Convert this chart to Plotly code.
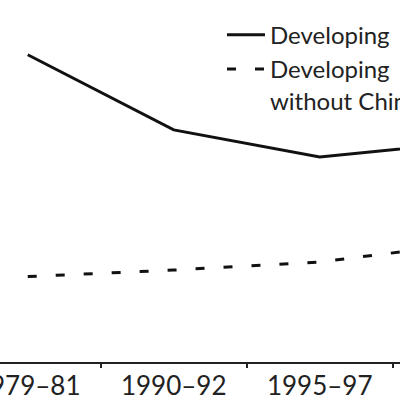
import plotly.graph_objects as go

periods = ["1979–81", "1990–92", "1995–97", "1998–2000"]
developing = [920, 817, 780, 800]
developing_no_china = [616, 625, 636, 661]

fig = go.Figure()
fig.add_trace(go.Scatter(
    x=periods, y=developing,
    mode="lines", name="Developing",
    line=dict(color="#111111", width=3)
))
fig.add_trace(go.Scatter(
    x=periods, y=developing_no_china,
    mode="lines", name="Developing<br>without China",
    line=dict(color="#111111", width=3, dash="9px,19px")
))

fig.update_layout(
    width=400, height=400,
    margin=dict(l=0, r=0, t=0, b=38, autoexpand=False),
    paper_bgcolor="white", plot_bgcolor="white",
    font=dict(family="Lato", color="#222222"),
    showlegend=True,
    legend=dict(
        x=0.555, y=0.965, xanchor="left", yanchor="top",
        font=dict(size=24, family="Lato", color="#222222"),
        bgcolor="rgba(0,0,0,0)", valign="top",
        tracegroupgap=0, itemwidth=38
    )
)
fig.update_xaxes(
    type="category", range=[-0.19, 2.55],
    showline=True, linecolor="#222222", linewidth=2,
    ticks="outside", tickson="boundaries", ticklen=4, tickwidth=2, tickcolor="#222222",
    showgrid=False, zeroline=False,
    tickfont=dict(size=26, family="Lato", color="#222222")
)
fig.update_yaxes(range=[499, 995], visible=False, showgrid=False)

# page has a default 8px body margin, drop it so the figure sits at the corner
fig.write_html("out.html", config={"displayModeBar": False},
               post_script="document.body.style.margin='0';")
